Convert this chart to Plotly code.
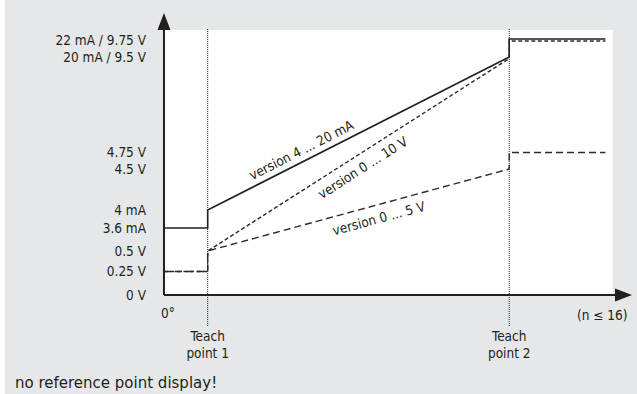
import numpy as np
import plotly.graph_objects as go

# travel axis (schematic units): origin, the two teach points, end of the curves
x_origin = 0
teach_points = [10, 79]
x_end = 101

# output of each version along the travel axis
current_ma = [3.6, 3.6, 4.0, 20.0, 22.0, 22.0]     # version 4 ... 20 mA
volt_10 = [0.25, 0.25, 0.5, 9.5, 9.75, 9.75]        # version 0 ... 10 V
volt_5 = [0.25, 0.25, 0.5, 4.5, 4.75, 4.75]         # version 0 ... 5 V

# schematic, non-linear value axis: signal value -> drawing height
ma_breaks = [3.6, 4.0, 20.0, 22.0]
ma_heights = [67, 85, 238, 256]
v_breaks = [0, 0.25, 0.5, 4.5, 4.75, 9.5, 9.75]
v_heights = [0, 23.5, 44, 126, 142.5, 236.5, 254]

# value-axis labels: (text, current value, voltage value)
tick_entries = [
    ("0 V", None, 0),
    ("0.25 V", None, 0.25),
    ("0.5 V", None, 0.5),
    ("3.6 mA", 3.6, None),
    ("4 mA", 4.0, None),
    ("4.5 V", None, 4.5),
    ("4.75 V", None, 4.75),
    ("20 mA / 9.5 V", 20.0, 9.5),
    ("22 mA / 9.75 V", 22.0, 9.75),
]


def ma_to_h(v):
    return np.interp(v, ma_breaks, ma_heights)


def v_to_h(v):
    return np.interp(v, v_breaks, v_heights)


tick_vals, tick_text = [], []
for text, ma, volt in tick_entries:
    hs = []
    if ma is not None:
        hs.append(float(ma_to_h(ma)))
    if volt is not None:
        hs.append(float(v_to_h(volt)))
    tick_vals.append(sum(hs) / len(hs))
    tick_text.append(text)

t1, t2 = teach_points
xs = [x_origin, t1, t1, t2, t2, x_end]

FONT = "DejaVu Sans Condensed, Liberation Sans Narrow, Arial Narrow, sans-serif"
NOTE_FONT = "DejaVu Sans, Liberation Sans, Arial, sans-serif"
INK = "#231f20"
BG = "#e6e7e8"

W, H = 637, 394
ML, MR, MT, MB = 150, 0, 10, 68
PW, PH = W - ML - MR, H - MT - MB
x_range = [-3.2, 108.24]
y_range = [-31, 285]
px_x = PW / (x_range[1] - x_range[0])
px_y = PH / (y_range[1] - y_range[0])

fig = go.Figure()

series = [
    (ma_to_h(current_ma), dict(color=INK, width=1.6, dash="solid")),
    (v_to_h(volt_10), dict(color="#2b2b2b", width=1.4, dash="4px,2.5px")),
    (v_to_h(volt_5), dict(color="#2b2b2b", width=1.4, dash="7px,4px")),
]
for ys, line in series:
    fig.add_trace(go.Scatter(x=xs, y=ys, mode="lines", line=line,
                             hoverinfo="skip", showlegend=False))

shapes = []
# white drawing area
shapes.append(dict(type="rect", xref="x", yref="y", x0=x_origin, x1=102.7,
                   y0=0, y1=265, fillcolor="white", line_width=0, layer="below"))
# thin white strip on the far left edge
shapes.append(dict(type="rect", xref="paper", yref="paper",
                   x0=-ML / PW, x1=(5 - ML) / PW,
                   y0=-MB / PH, y1=1 + MT / PH, fillcolor="white", line_width=0,
                   layer="below"))
# teach point markers
for tp in teach_points:
    shapes.append(dict(type="line", xref="x", yref="y", x0=tp, x1=tp,
                       y0=-31, y1=266, line=dict(color=INK, width=1, dash="1px,1px"),
                       layer="below"))
# axes with arrowheads
AX = "#231f20"
shapes.append(dict(type="line", xref="x", yref="y", x0=0, x1=0, y0=0, y1=272,
                   line=dict(color=AX, width=2), layer="above"))
shapes.append(dict(type="line", xref="x", yref="y", x0=0, x1=104, y0=0, y1=0,
                   line=dict(color=AX, width=2), layer="above"))
shapes.append(dict(type="path", xref="x", yref="y", xsizemode="pixel", ysizemode="pixel",
                   xanchor=0, yanchor=282, path="M-6.5,-17 L6.5,-17 L0,0 Z",
                   fillcolor=AX, line_width=0, layer="above"))
shapes.append(dict(type="path", xref="x", yref="y", xsizemode="pixel", ysizemode="pixel",
                   xanchor=107.1, yanchor=0, path="M-17,-6.5 L-17,6.5 L0,0 Z",
                   fillcolor=AX, line_width=0, layer="above"))

annotations = []
TXT = dict(family=FONT, size=13.5, color=INK)


def line_label(text, ys, x_at, offset):
    """Place text along the rising segment between the teach points."""
    y_a, y_b = float(ys[2]), float(ys[3])
    y_at = y_a + (y_b - y_a) * (x_at - t1) / (t2 - t1)
    angle = np.degrees(np.arctan(((y_b - y_a) * px_y) / ((t2 - t1) * px_x)))
    annotations.append(dict(x=x_at, y=y_at, xref="x", yref="y", text=text,
                            showarrow=False, textangle=-angle,
                            xshift=-np.sin(np.radians(angle)) * offset,
                            yshift=np.cos(np.radians(angle)) * offset,
                            font=TXT))


line_label("version 4 ... 20 mA", ma_to_h(current_ma), 32.5, 11)
line_label("version 0 ... 10 V", v_to_h(volt_10), 44.0, -13)
line_label("version 0 ... 5 V", v_to_h(volt_5), 48.5, -13)

annotations.append(dict(x=0, y=-18, xref="x", yref="y", text="0°", showarrow=False,
                        xanchor="left", xshift=-5, font=TXT))
annotations.append(dict(x=106.6, y=-20, xref="x", yref="y", text="(n ≤ 16)",
                        showarrow=False, xanchor="right", font=TXT))
annotations.append(dict(x=(13 - ML) / PW, y=(MT + PH - 383) / PH, xref="paper",
                        yref="paper", text="no reference point display!",
                        showarrow=False, xanchor="left", yanchor="middle",
                        font=dict(family=NOTE_FONT, size=15, color=INK)))

fig.update_layout(
    width=W, height=H,
    margin=dict(l=ML, r=MR, t=MT, b=MB, autoexpand=False),
    paper_bgcolor=BG, plot_bgcolor=BG,
    shapes=shapes, annotations=annotations,
    xaxis=dict(range=x_range, showgrid=False, zeroline=False, showline=False,
               tickvals=teach_points,
               ticktext=["Teach<br>point 1", "Teach<br>point 2"],
               ticks="", tickfont=TXT, fixedrange=True),
    yaxis=dict(range=y_range, showgrid=False, zeroline=False, showline=False,
               tickvals=tick_vals, ticktext=tick_text, ticks="",
               ticklabelstandoff=3, tickfont=TXT, fixedrange=True),
    showlegend=False,
)

fig.write_html("out.html")
